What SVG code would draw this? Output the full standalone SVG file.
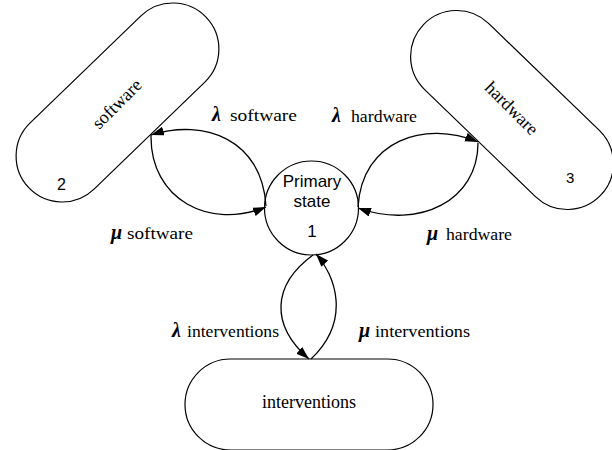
<svg xmlns="http://www.w3.org/2000/svg" width="612" height="450" viewBox="0 0 612 450">
<defs>
<style>
.shape{fill:#fff;stroke:#000;stroke-width:1.2}
.edge{fill:none;stroke:#000;stroke-width:1.3;marker-end:url(#arr)}
.sans{font-family:"Liberation Sans",Arial,sans-serif;fill:#000}
.serif{font-family:"Liberation Serif","Times New Roman",serif;fill:#000}
.greek{font-family:"Liberation Serif","Times New Roman",serif;font-weight:bold;font-style:italic;font-size:20px}
.lbl{font-family:"Liberation Serif","Times New Roman",serif;font-size:16px}
</style>
<marker id="arr" markerUnits="userSpaceOnUse" markerWidth="14" markerHeight="10" refX="13" refY="4.5" orient="auto">
<path d="M0,0 L13,4.5 L0,9 z" fill="#000"/>
</marker>
</defs>
<rect width="612" height="450" fill="#fff"/>

<g id="software">
<rect class="shape" x="-123" y="-46" width="246" height="92" rx="46" transform="translate(117.5 102.5) rotate(-44)"/>
<text class="serif" font-size="18" text-anchor="middle" transform="translate(117.5 104.5) rotate(-45)" y="5">software</text>
<text class="sans" font-family="Liberation Sans, Arial, sans-serif" font-size="16" x="57" y="190">2</text>
</g>

<g id="hardware">
<rect class="shape" x="-123" y="-46" width="246" height="92" rx="46" transform="translate(512 110) rotate(44)"/>
<text class="serif" font-size="18" text-anchor="middle" transform="translate(511 109) rotate(45)" y="5">hardware</text>
<text class="sans" font-family="Liberation Sans, Arial, sans-serif" font-size="15" x="566" y="183" fill="#444">3</text>
</g>

<g id="interventions">
<rect class="shape" x="185" y="359" width="248" height="91" rx="45.5"/>
<text class="serif" font-size="18" x="309" y="408" text-anchor="middle">interventions</text>
</g>

<g id="primary">
<circle class="shape" cx="311.5" cy="208" r="47"/>
<text class="sans" font-family="Liberation Sans, Arial, sans-serif" font-size="17" x="312" y="187" text-anchor="middle">Primary</text>
<text class="sans" font-family="Liberation Sans, Arial, sans-serif" font-size="17" x="312" y="207" text-anchor="middle">state</text>
<text class="sans" font-family="Liberation Sans, Arial, sans-serif" font-size="17" x="312" y="237" text-anchor="middle">1</text>
</g>

<g id="connectors">
<path class="edge" d="M266,206 C262,140 205,118 151,135"/>
<path class="edge" d="M151,135 C150,200 210,230 266,207"/>
<path class="edge" d="M358,207 C362,140 425,120 478,142"/>
<path class="edge" d="M478,143 C478,200 420,230 358,208"/>
<path class="edge" d="M313,255 C272,285 270,325 309,359"/>
<path class="edge" d="M311,359 C352,320 335,275 316,254"/>
</g>

<g id="labels">
<text class="greek" x="212" y="121">λ</text>
<text class="lbl" x="230" y="121" textLength="67" lengthAdjust="spacingAndGlyphs">software</text>
<text class="greek" x="111" y="239">μ</text>
<text class="lbl" x="127" y="239" textLength="66" lengthAdjust="spacingAndGlyphs">software</text>
<text class="greek" x="332" y="122">λ</text>
<text class="lbl" x="351" y="122" textLength="66" lengthAdjust="spacingAndGlyphs">hardware</text>
<text class="greek" x="427" y="240">μ</text>
<text class="lbl" x="446" y="240" textLength="66" lengthAdjust="spacingAndGlyphs">hardware</text>
<text class="greek" x="172" y="337">λ</text>
<text class="lbl" x="187" y="337" textLength="92" lengthAdjust="spacingAndGlyphs">interventions</text>
<text class="greek" x="359" y="337">μ</text>
<text class="lbl" x="375" y="337" textLength="95" lengthAdjust="spacingAndGlyphs">interventions</text>
</g>
</svg>
